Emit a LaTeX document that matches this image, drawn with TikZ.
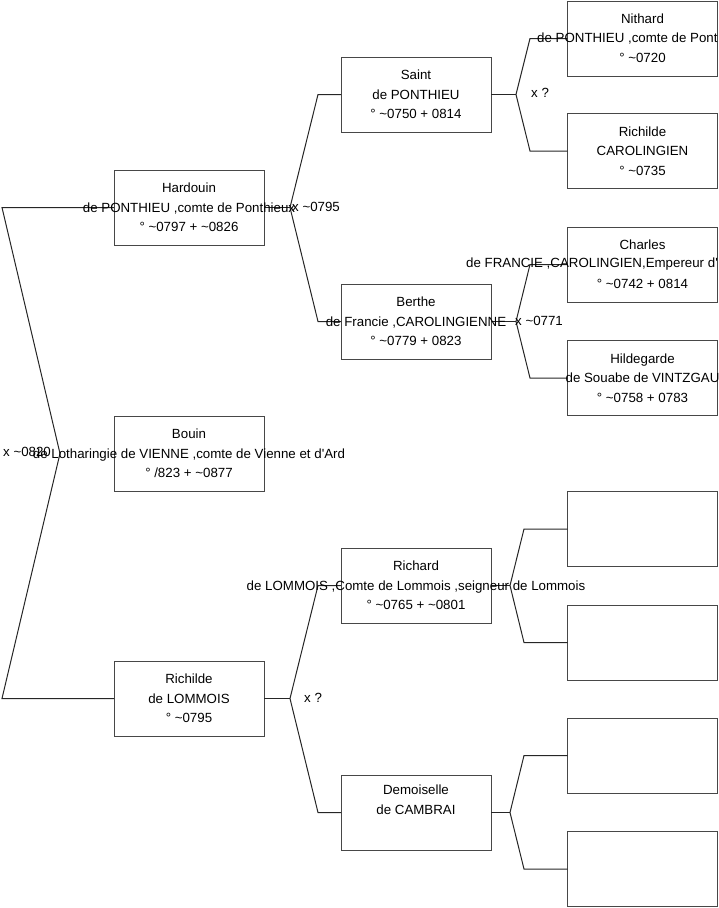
\documentclass[tikz,border=0pt]{standalone}
\usepackage{fontspec}
\setmainfont{Liberation Sans}
\newcommand\tild{\textasciitilde}
\newcommand\apo{\textquotesingle}
\begin{document}
\begin{tikzpicture}[x=1pt,y=-1pt,
  box/.style={draw=black!72,line width=1pt,minimum width=150pt,minimum height=75pt,inner sep=0pt,outer sep=0pt,fill=none},
  txt/.style={align=center,inner sep=0pt,font=\fontsize{13.3}{19.5}\selectfont},
  lin/.style={anchor=west,inner sep=0pt,font=\fontsize{13.3}{19.5}\selectfont},
  lbl/.style={anchor=west,inner sep=0pt,font=\fontsize{13.3}{16}\selectfont},
  con/.style={draw=black!85,line width=1pt}]
\useasboundingbox (0,0) rectangle (719,908);
% generation 1
\node[box] (hard) at (189,207.5) {};
\node[box] (bouin) at (189,453.5) {};
\node[box] (rich) at (189,698.5) {};
% generation 2
\node[box] (saint) at (416,94.5) {};
\node[box] (berthe) at (416,321.5) {};
\node[box] (richard) at (416,585.5) {};
\node[box] (demo) at (416,812.5) {};
% generation 3
\node[box] (nith) at (642.5,38.5) {};
\node[box] (richc) at (642.5,151) {};
\node[box] (charles) at (642.5,264.5) {};
\node[box] (hild) at (642.5,378) {};
\node[box] (e1) at (642.5,529) {};
\node[box] (e2) at (642.5,642.5) {};
\node[box] (e3) at (642.5,755.5) {};
\node[box] (e4) at (642.5,869) {};
% vertices
\coordinate (v0) at (60,453.5);
\coordinate (v0u) at (2,207.5);
\coordinate (v0d) at (2,698.5);
\coordinate (vh) at (290,207.5);
\coordinate (vhu) at (318,94.5);
\coordinate (vhd) at (318,321.5);
\coordinate (vr) at (290,698.5);
\coordinate (vru) at (318,585.5);
\coordinate (vrd) at (318,812.5);
\coordinate (vs) at (516,94.5);
\coordinate (vsu) at (530,38.5);
\coordinate (vsd) at (530,151);
\coordinate (vb) at (516,321.5);
\coordinate (vbu) at (530,264.5);
\coordinate (vbd) at (530,378);
\coordinate (vc) at (510,585.5);
\coordinate (vcu) at (524,529);
\coordinate (vcd) at (524,642.5);
\coordinate (vd) at (510,812.5);
\coordinate (vdu) at (524,755.5);
\coordinate (vdd) at (524,869);
% connectors
\draw[con] (hard.west) -- (v0u) -- (v0) -- (v0d) -- (rich.west);
\draw[con] (hard.east) -- (vh);
\draw[con] (saint.west) -- (vhu) -- (vh) -- (vhd) -- (berthe.west);
\draw[con] (rich.east) -- (vr);
\draw[con] (richard.west) -- (vru) -- (vr) -- (vrd) -- (demo.west);
\draw[con] (saint.east) -- (vs);
\draw[con] (nith.west) -- (vsu) -- (vs) -- (vsd) -- (richc.west);
\draw[con] (berthe.east) -- (vb);
\draw[con] (charles.west) -- (vbu) -- (vb) -- (vbd) -- (hild.west);
\draw[con] (richard.east) -- (vc);
\draw[con] (e1.west) -- (vcu) -- (vc) -- (vcd) -- (e2.west);
\draw[con] (demo.east) -- (vd);
\draw[con] (e3.west) -- (vdu) -- (vd) -- (vdd) -- (e4.west);
% labels
\node[lbl] (l0) at (3,452) {x \tild0820};
\node[lbl] (lh) at (292,207) {x \tild0795};
\node[lbl] (lr) at (304,698) {x ?};
\node[lbl] (ls) at (531,93) {x ?};
\node[lbl] (lb) at (515,321) {x \tild0771};
% texts
\node[txt] at (hard) {Hardouin\\de PONTHIEU ,comte de Ponthieux\\° \tild0797 + \tild0826};
\node[txt] at (bouin) {Bouin\\de Lotharingie de VIENNE ,comte de Vienne et d\apo Ard\\° /823 + \tild0877};
\node[txt] at (rich) {Richilde\\de LOMMOIS\\° \tild0795};
\node[txt] at (saint) {Saint\\de PONTHIEU\\° \tild0750 + 0814};
\node[txt] at (berthe) {Berthe\\de Francie ,CAROLINGIENNE\\° \tild0779 + 0823};
\node[txt] at (richard) {Richard\\de LOMMOIS ,Comte de Lommois ,seigneur de Lommois\\° \tild0765 + \tild0801};
\node[txt] at (demo) {Demoiselle\\de CAMBRAI\\\strut};
\node[txt] (nith1) at ([yshift=19.5pt]nith.center) {Nithard};
\node[lin] (nith2) at (537,38.5) {de PONTHIEU ,comte de Pont};
\node[txt] (nith3) at ([yshift=-19.5pt]nith.center) {° \tild0720};
\node[txt] at (richc) {Richilde\\CAROLINGIEN\\° \tild0735};
\node[txt] (char1) at ([yshift=19.5pt]charles.center) {Charles};
\node[lin] (char2) at (466,264.5) {de FRANCIE ,CAROLINGIEN,Empereur d\apo};
\node[txt] (char3) at ([yshift=-19.5pt]charles.center) {° \tild0742 + 0814};
\node[txt] at (hild) {Hildegarde\\de Souabe de VINTZGAU\\° \tild0758 + 0783};
\end{tikzpicture}
\end{document}
